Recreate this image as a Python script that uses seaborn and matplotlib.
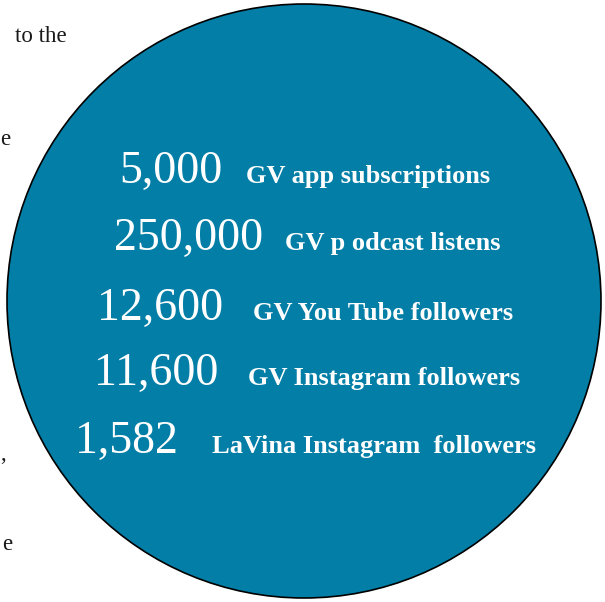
import seaborn as sns
import matplotlib.pyplot as plt
from matplotlib.patches import Ellipse

# dados do infografico
numeros = ["5,000", "250,000", "12,600", "11,600", "1,582"]
rotulos = ["GV app subscriptions", "GV p odcast listens", "GV You Tube followers",
           "GV Instagram followers", "LaVina Instagram  followers"]

# fragmentos do texto da pagina ao lado (so a parte visivel)
fragmentos = ["to the", "e", ",", "e"]

# posicoes em pixels (layout)
fim_numero = [222, 263, 223, 218, 178]
inicio_rotulo = [246, 285, 253, 248, 212]
linha_base = [183, 250, 320, 385, 453]
frag_x = [15, 0, 0, 2]
frag_y = [42, 145, 460, 550]

sns.set_theme(style="white")
plt.rcParams['font.family'] = ['Liberation Serif', 'DejaVu Serif']

fig = plt.figure(figsize=(6.05, 6.02), dpi=100)
ax = fig.add_axes([0, 0, 1, 1])
ax.set_xlim(0, 605)
ax.set_ylim(602, 0)
ax.axis('off')

# circulo azul
circulo = Ellipse((304, 301), 594, 594, facecolor='#037ea6', edgecolor='black', linewidth=1.2)
ax.add_patch(circulo)

for num, rot, xn, xr, yb in zip(numeros, rotulos, fim_numero, inicio_rotulo, linha_base):
    ax.text(xn, yb, num, ha='right', va='baseline', color='white', fontsize=33)
    ax.text(xr, yb, rot, ha='left', va='baseline', color='white', fontsize=19, fontweight='bold')

for txt, x, y in zip(fragmentos, frag_x, frag_y):
    ax.text(x, y, txt, ha='left', va='baseline', color='#1a1a1a', fontsize=16.5)

plt.savefig('out.png', dpi=100)
plt.close()
